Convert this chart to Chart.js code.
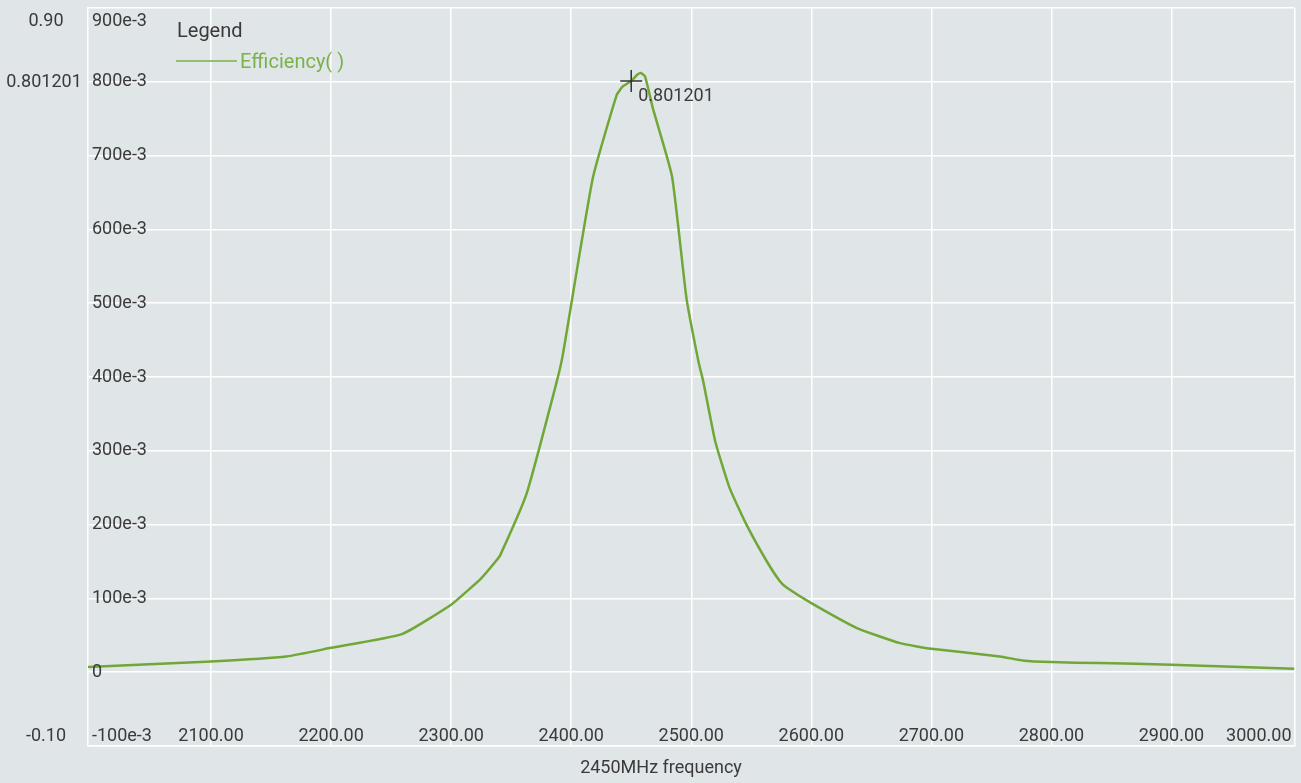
<!DOCTYPE html>
<html>
<head>
<meta charset="utf-8">
<title>Efficiency</title>
<script src="https://cdn.jsdelivr.net/npm/chart.js@4.4.1/dist/chart.umd.min.js"></script>
<style>
  html, body { margin: 0; padding: 0; background: #e0e5e8; }
  canvas { display: block; }
</style>
</head>
<body>
<canvas id="effChart" width="1301" height="783"></canvas>
<script>
// Data (frequency in MHz, efficiency as a fraction)
const freqs = [1997.5, 2100, 2163, 2200, 2259, 2300, 2313, 2324, 2337, 2341, 2363, 2388, 2393, 2418,
  2438, 2443, 2450, 2455, 2458, 2461.5, 2468, 2484, 2496, 2506, 2510, 2520, 2532, 2546, 2563,
  2574, 2580, 2600, 2638, 2674, 2700, 2757, 2777, 2800, 2840, 2900, 3002.5];
const efficiency = [0.0072, 0.0146, 0.0214, 0.0330, 0.0516, 0.0915, 0.1095, 0.1253, 0.150, 0.159, 0.2427, 0.394, 0.430, 0.6695,
  0.7825, 0.7938, 0.801201, 0.8096, 0.8118, 0.8073, 0.7644, 0.6718, 0.5069, 0.4211, 0.394, 0.3127, 0.2495, 0.1999, 0.150,
  0.123, 0.114, 0.0936, 0.0598, 0.0394, 0.0318, 0.0214, 0.0156, 0.0137, 0.0123, 0.0102, 0.0047];

const xTicks = [2100, 2200, 2300, 2400, 2500, 2600, 2700, 2800, 2900, 3000];
const xTickLabels = ['2100.00', '2200.00', '2300.00', '2400.00', '2500.00', '2600.00', '2700.00', '2800.00', '2900.00', '3000.00'];
const yTicks = [-0.1, 0, 0.1, 0.2, 0.3, 0.4, 0.5, 0.6, 0.7, 0.8, 0.9];
const yTickLabels = ['-100e-3', '0', '100e-3', '200e-3', '300e-3', '400e-3', '500e-3', '600e-3', '700e-3', '800e-3', '900e-3'];

const markerFreq = 2450;
const markerValue = 0.801201;
const markerLabel = '0.801201';
const rangeLabels = ['0.90', '-0.10'];

const seriesName = 'Efficiency( )';
const xTitle = '2450MHz frequency';

const lineColor = '#70a736';
const textColor = '#3a3a3a';
const FONT = '18px Roboto';

// background + custom labels drawn on top of the library scales
const chartDecor = {
  id: 'chartDecor',
  beforeDraw(chart) {
    const ctx = chart.ctx;
    ctx.save();
    ctx.fillStyle = '#e0e5e8';
    ctx.fillRect(0, 0, chart.width, chart.height);
    ctx.restore();
  },
  afterDraw(chart) {
    const { ctx, chartArea: a, scales: { x, y } } = chart;
    ctx.save();
    ctx.font = FONT;
    ctx.fillStyle = textColor;
    ctx.textBaseline = 'middle';

    const clampY = (py) => Math.min(Math.max(py, a.top + 13.5), a.bottom - 9.5);

    // y tick labels, inside the plot
    ctx.textAlign = 'left';
    yTicks.forEach((v, i) => {
      ctx.fillText(yTickLabels[i], a.left + 4, clampY(y.getPixelForValue(v)));
    });

    // x tick labels, inside the plot above the bottom edge
    ctx.textAlign = 'center';
    xTicks.forEach((v, i) => {
      const w = ctx.measureText(xTickLabels[i]).width;
      let px = x.getPixelForValue(v);
      px = Math.min(px, a.right - 3 - w / 2);
      ctx.fillText(xTickLabels[i], px, a.bottom - 9.5);
    });

    // outer range labels on the left
    ctx.fillText(rangeLabels[0], 46, clampY(y.getPixelForValue(0.9)));
    ctx.fillText(markerLabel, 44, y.getPixelForValue(markerValue) + 1.5);
    ctx.fillText(rangeLabels[1], 46, clampY(y.getPixelForValue(-0.1)));

    // axis title
    ctx.fillText(xTitle, 661, 768);

    // marker
    const mx = x.getPixelForValue(markerFreq);
    const my = y.getPixelForValue(markerValue);
    ctx.strokeStyle = '#333333';
    ctx.lineWidth = 1.5;
    ctx.beginPath();
    ctx.moveTo(mx - 11, my); ctx.lineTo(mx + 11, my);
    ctx.moveTo(mx, my - 11); ctx.lineTo(mx, my + 11);
    ctx.stroke();
    ctx.textAlign = 'left';
    ctx.fillText(markerLabel, mx + 7, my + 16);

    // legend
    ctx.font = '20px Roboto';
    ctx.fillStyle = textColor;
    ctx.textBaseline = 'alphabetic';
    ctx.fillText('Legend', 177, 37);
    ctx.strokeStyle = '#7ab24a';
    ctx.lineWidth = 1.5;
    ctx.beginPath();
    ctx.moveTo(176, 61); ctx.lineTo(237, 61);
    ctx.stroke();
    ctx.fillStyle = '#7ab24a';
    ctx.fillText(seriesName, 240, 68);
    ctx.restore();
  }
};

const ctx = document.getElementById('effChart').getContext('2d');
const effChart = new Chart(ctx, {
  type: 'line',
  data: {
    datasets: [{
      label: seriesName,
      data: freqs.map((f, i) => ({ x: f, y: efficiency[i] })),
      borderColor: lineColor,
      borderWidth: 2.5,
      pointRadius: 0,
      tension: 0.15,
      fill: false
    }]
  },
  options: {
    responsive: false,
    animation: false,
    layout: { padding: { left: 88, top: 8, right: 6.5, bottom: 37 } },
    plugins: {
      legend: { display: false },
      tooltip: { enabled: false }
    },
    scales: {
      x: {
        type: 'linear',
        min: 1997.5,
        max: 3002.5,
        afterBuildTicks: (scale) => {
          scale.ticks = [2100, 2200, 2300, 2400, 2500, 2600, 2700, 2800, 2900, 3002.5].map(v => ({ value: v }));
        },
        ticks: { display: false },
        grid: { color: '#ffffff', lineWidth: 1.5, drawTicks: false },
        border: { color: '#ffffff', width: 1.5 }
      },
      y: {
        min: -0.1,
        max: 0.9,
        afterBuildTicks: (scale) => {
          scale.ticks = yTicks.map(v => ({ value: v }));
        },
        ticks: { display: false },
        grid: { color: '#ffffff', lineWidth: 1.5, drawTicks: false },
        border: { color: '#ffffff', width: 1.5 }
      }
    }
  },
  plugins: [chartDecor]
});
</script>
</body>
</html>
